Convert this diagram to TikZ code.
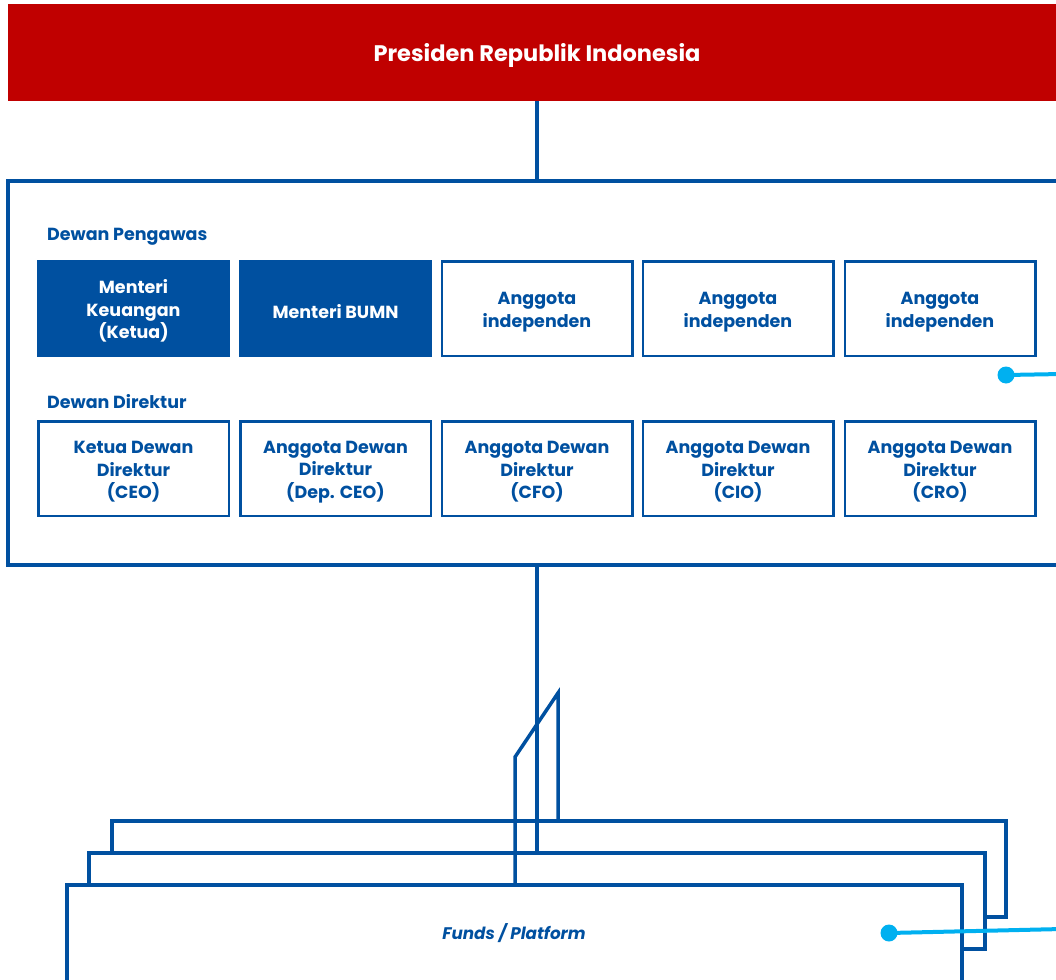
\documentclass[tikz,border=0pt]{standalone}
\usepackage{fontspec}
\setmainfont{Poppins}
\definecolor{pred}{HTML}{C00000}
\definecolor{pblue}{HTML}{0050A0}
\definecolor{pcyan}{HTML}{00B0F0}
\newcommand{\mystrut}{\rule{0pt}{19.5pt}}
\begin{document}
\begin{tikzpicture}[x=1pt,y=-1pt,
  member/.style={draw=pblue,line width=2.5pt,minimum width=190.5pt,minimum height=94.5pt,inner sep=0pt,
    align=center,text=pblue,font=\fontsize{17.5}{22.5}\selectfont\bfseries},
  filledmember/.style={member,fill=pblue,text=white},
  grouplabel/.style={anchor=west,text=pblue,font=\fontsize{17.5}{20}\selectfont\bfseries,inner sep=0pt},
  link/.style={draw=pblue,line width=3.5pt},
  layer/.style={draw=pblue,line width=3.5pt,line join=miter},
  cyanline/.style={draw=pcyan,line width=4pt},
  cyandot/.style={circle,fill=pcyan,minimum size=17pt,inner sep=0pt}]
\useasboundingbox (0,0) rectangle (1056,979);

% President
\node[fill=pred,minimum width=1058pt,minimum height=97pt,inner sep=0pt,text=white,
  font=\fontsize{22.5}{26}\selectfont\bfseries] (pres) at (537,52.5) {\rule{0pt}{23pt}Presiden Republik Indonesia};

% Board frame
\node[draw=pblue,line width=3.5pt,minimum width=1058pt,minimum height=384pt,inner sep=0pt] (board) at (537,373) {};
\draw[link] (pres.south -| 537,0) -- (board.north -| 537,0);

\node[grouplabel] (lblp) at (47,237) {Dewan Pengawas};
\node[grouplabel] (lbld) at (47,402) {Dewan Direktur};

% Row 1
\node[filledmember] (p1) at (133.5,308.5) {\mystrut Menteri\\Keuangan\\(Ketua)};
\node[filledmember] (p2) at (335.5,308.5) {\mystrut Menteri BUMN};
\node[member] (p3) at (537,308.5) {\mystrut Anggota\\independen};
\node[member] (p4) at (738,308.5) {\mystrut Anggota\\independen};
\node[member] (p5) at (940,308.5) {\mystrut Anggota\\independen};

% Row 2
\node[member] (d1) at (133.5,468.5) {\mystrut Ketua Dewan\\Direktur\\(CEO)};
\node[member] (d2) at (335.5,468.5) {\mystrut Anggota Dewan\\Direktur\\(Dep. CEO)};
\node[member] (d3) at (537,468.5) {\mystrut Anggota Dewan\\Direktur\\(CFO)};
\node[member] (d4) at (738,468.5) {\mystrut Anggota Dewan\\Direktur\\(CIO)};
\node[member] (d5) at (940,468.5) {\mystrut Anggota Dewan\\Direktur\\(CRO)};

% Cyan pointer 1
\node[cyandot] (dot1) at (1006,375) {};
\coordinate (out1) at (1062,374);
\draw[cyanline] (dot1.center) -- (out1);

% Layered boxes
\coordinate (backtop) at (558,821);
\coordinate (midtop) at (537,853);
\coordinate (fronttop) at (515,885);
\draw[layer] (112,853) -- (112,821) -- (1006,821) -- (1006,917) -- (986,917);
\draw[layer] (89,885) -- (89,853) -- (985,853) -- (985,949) -- (962,949);
\draw[layer] (67,1000) -- (67,885) -- (962,885) -- (962,1000);

\draw[link] (board.south -| midtop) -- (midtop);
\draw[link,line join=miter] (fronttop) -- (515,757) -- (558,693) -- (backtop);

\node[text=pblue,font=\fontsize{16.8}{20}\selectfont\bfseries\itshape] (funds) at (514,933) {Funds / Platform};

% Cyan pointer 2
\node[cyandot] (dot2) at (889,933) {};
\coordinate (out2) at (1062,929);
\draw[cyanline] (dot2.center) -- (out2);
\end{tikzpicture}
\end{document}
